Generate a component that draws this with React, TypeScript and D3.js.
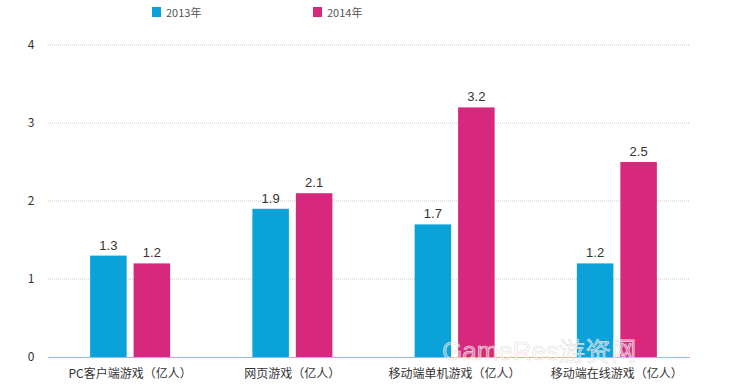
import React from "react";
import * as d3 from "d3";

const categories = ["PC客户端游戏（亿人）", "网页游戏（亿人）", "移动端单机游戏（亿人）", "移动端在线游戏（亿人）"];
const seriesNames = ["2013年", "2014年"];
const values2013 = [1.3, 1.9, 1.7, 1.2];
const values2014 = [1.2, 2.1, 3.2, 2.5];
const yTicks = [0, 1, 2, 3, 4];
const colors = ["#0aa2d8", "#d6297d"];

const W = 744;
const H = 390;

export default function App() {
  const x = d3.scaleBand<string>().domain(categories).range([49, 698]);
  const y = d3.scaleLinear().domain([0, 4]).range([357, 45]);
  const inner = d3.scaleBand<number>().domain([0, 1]).range([-40, 40]).paddingInner(0.16);
  const series = [values2013, values2014];
  const font = "'Noto Sans CJK SC', 'Noto Sans', sans-serif";

  return (
    <svg width={W} height={H} style={{ position: "absolute", left: 0, top: 0, background: "#fff" }} fontFamily={font}>
      {/* grid */}
      {yTicks.filter((t) => t > 0).map((t) => (
        <line key={t} x1={48} x2={690} y1={y(t)} y2={y(t)} stroke="#c8c8c8" strokeDasharray="1,1" />
      ))}
      {yTicks.map((t) => (
        <text key={t} x={31} y={y(t) + 4} fontSize={12} fill="#333" textAnchor="middle">{t}</text>
      ))}

      {/* bars */}
      {categories.map((c, i) => {
        const cx = (x(c) || 0) + x.bandwidth() / 2;
        return (
          <g key={c}>
            {series.map((s, j) => {
              const bx = cx + (inner(j) || 0);
              return (
                <g key={j}>
                  <rect x={bx} y={y(s[i])} width={inner.bandwidth()} height={y(0) - y(s[i])} fill={colors[j]} />
                  <text x={bx + inner.bandwidth() / 2} y={y(s[i]) - 6} fontSize={13} fill="#333" textAnchor="middle" fontFamily="'Liberation Sans', Arial, sans-serif">
                    {s[i].toFixed(1)}
                  </text>
                </g>
              );
            })}
            <text x={cx} y={378} fontSize={12} fill="#333" textAnchor="middle">{c}</text>
          </g>
        );
      })}

      {/* baseline */}
      <line x1={48} x2={690} y1={y(0) + 0.5} y2={y(0) + 0.5} stroke="#f4a56c" strokeWidth={1.2} />

      {/* legend */}
      {seriesNames.map((n, j) => (
        <g key={n} transform={`translate(${j === 0 ? 152 : 313},7)`}>
          <rect width={9} height={10} fill={colors[j]} />
          <text x={14} y={9.5} fontSize={11} fill="#555">{n}</text>
        </g>
      ))}

      {/* watermark */}
      <text x={442} y={360} fontSize={26} fill="#ffffff" fillOpacity={0.4} stroke="#e2e2e2" strokeWidth={0.6} fontFamily="'Liberation Sans', Arial, sans-serif">
        GameRes游资网
      </text>
    </svg>
  );
}
